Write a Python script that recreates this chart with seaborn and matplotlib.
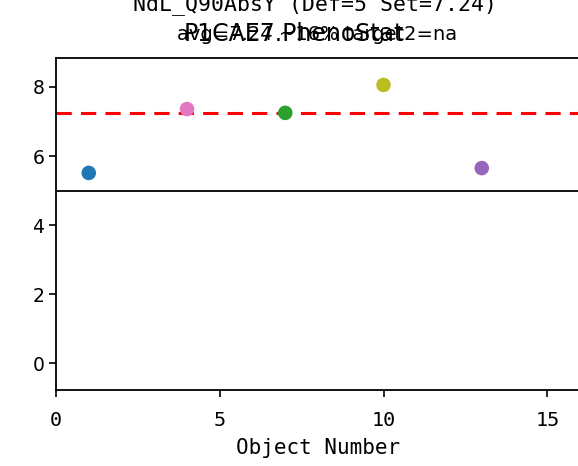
import matplotlib
matplotlib.use("Agg")
import matplotlib.pyplot as plt
import seaborn as sns
import pandas as pd

obj_num = [1, 4, 7, 10, 13]
values = [5.51, 7.36, 7.25, 8.06, 5.65]
colors = ["#1f77b4", "#e377c2", "#2ca02c", "#bcbd22", "#9467bd"]
set_value = 7.24
def_value = 5
title_line1 = "NdL_Q90AbsY (Def=5 Set=7.24)"
title_line2 = "P1CAE7.PhenoStat"
overlay_text = "avg=7.24 ~16% target2=na"

sns.set_style("ticks")
plt.rcParams['font.family'] = ['DejaVu Sans']
plt.rcParams['text.color'] = 'black'
plt.rcParams['axes.labelcolor'] = 'black'
plt.rcParams['xtick.color'] = 'black'
plt.rcParams['ytick.color'] = 'black'

df = pd.DataFrame({"obj": obj_num, "val": values, "c": [str(i) for i in range(len(obj_num))]})

fig = plt.figure(figsize=(5.78, 4.66), dpi=100)
ax = fig.add_axes([56/578, 1 - 390/466, 524/578, 332/466])
sns.scatterplot(data=df, x="obj", y="val", hue="c", palette=colors, s=110,
                edgecolor="none", legend=False, ax=ax, zorder=3)
ax.axhline(set_value, color="red", linestyle="--", linewidth=2.2, dashes=(5, 3), zorder=2)
ax.axhline(def_value, color="black", linewidth=1.3, zorder=2)
ax.set_xlim(0, 16)
ax.set_ylim(-0.78, 8.84)
ax.set_xticks([0, 5, 10, 15])
ax.set_yticks([0, 2, 4, 6, 8])
ax.tick_params(axis="y", labelsize=13.5, length=5, width=1.2)
ax.tick_params(axis="x", labelsize=14.5, length=5, width=1.2, pad=10)
for lab in ax.get_xticklabels():
    lab.set_family("DejaVu Sans Mono")
ax.set_xlabel("Object Number", fontsize=15, family="DejaVu Sans Mono", labelpad=6)
ax.set_ylabel("")
for sp in ax.spines.values():
    sp.set_linewidth(1.3)
    sp.set_color("black")

fig.text(315/578, 1 - 5/466, title_line1, ha="center", va="center", fontsize=15.5,
         family="DejaVu Sans Mono")
fig.text(294/578, 1 - 34/466, title_line2, ha="center", va="center", fontsize=17)
fig.text(317/578, 1 - 34/466, overlay_text, ha="center", va="center", fontsize=14)

fig.savefig("out.png", dpi=100)
